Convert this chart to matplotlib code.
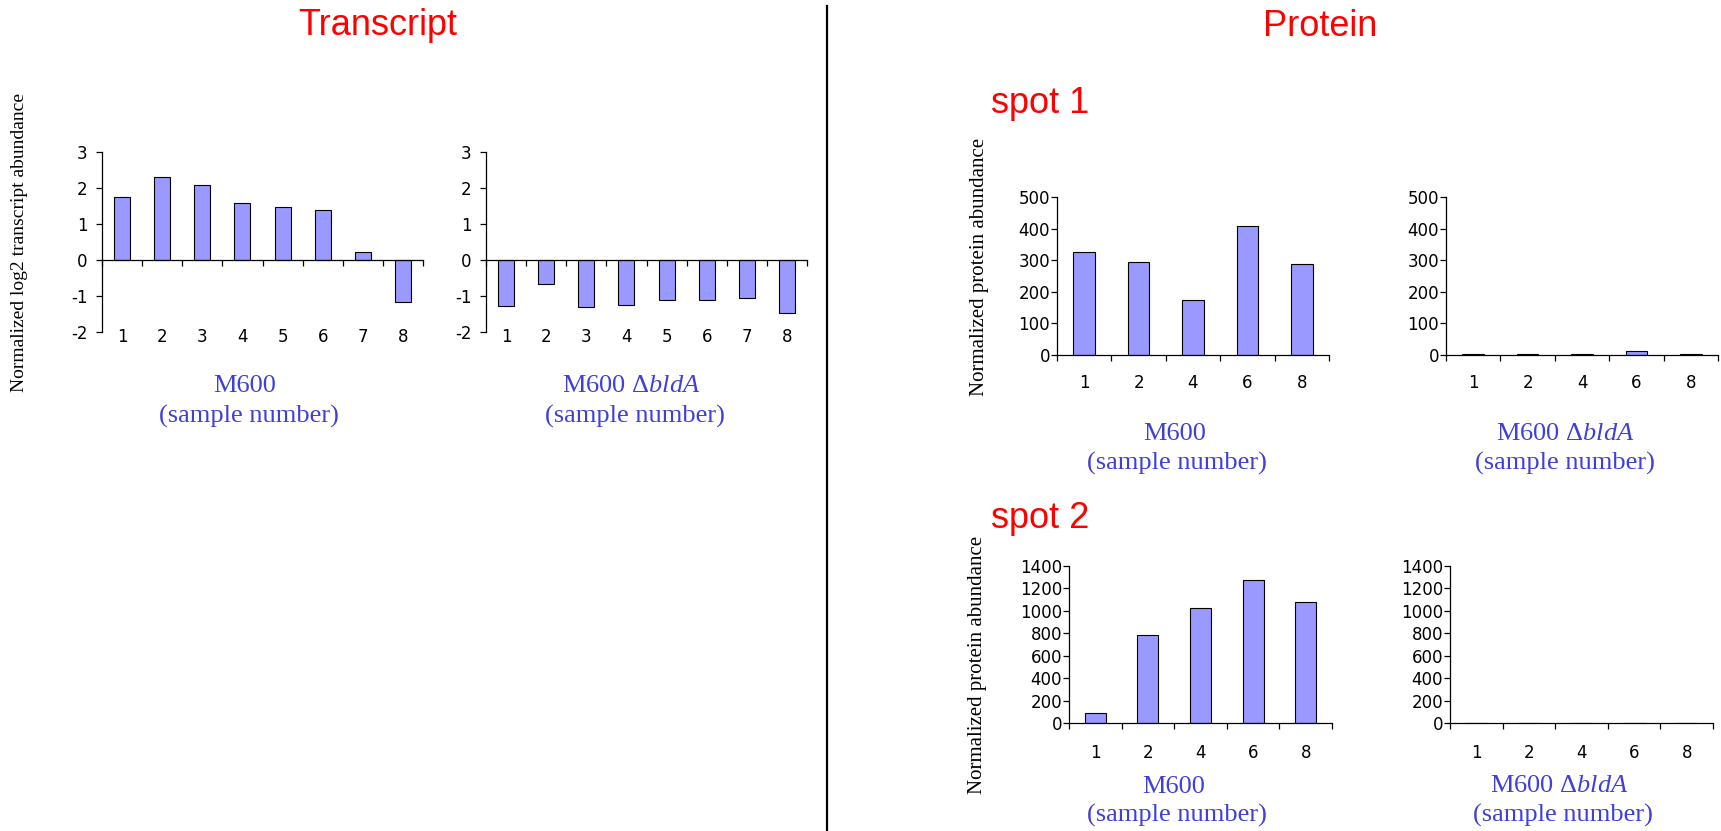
import numpy as np
import matplotlib
matplotlib.use("Agg")
import matplotlib.pyplot as plt
from matplotlib.lines import Line2D

# data
transcript_samples = ['1', '2', '3', '4', '5', '6', '7', '8']
transcript_m600 = [1.76, 2.30, 2.08, 1.57, 1.46, 1.38, 0.22, -1.16]
transcript_bldA = [-1.28, -0.68, -1.31, -1.26, -1.11, -1.10, -1.06, -1.46]

protein_samples = ['1', '2', '4', '6', '8']
spot1_m600 = [326, 294, 175, 409, 288]
spot1_bldA = [2, 2, 2, 14, 2]
spot2_m600 = [92, 783, 1024, 1273, 1077]
spot2_bldA = [0, 0, 0, 0, 0]

W, H = 1721, 831
BAR_COLOR = '#9999ff'
LABEL_BLUE = '#4040d6'

plt.rcParams['mathtext.fontset'] = 'custom'
plt.rcParams['mathtext.rm'] = 'Liberation Serif'
plt.rcParams['mathtext.it'] = 'Liberation Serif:italic'
plt.rcParams['axes.unicode_minus'] = False

fig = plt.figure(figsize=(W / 100, H / 100), dpi=100)


def px_axes(x0, y0, x1, y1):
    # pixel box (top-left origin) -> figure axes
    return fig.add_axes([x0 / W, 1 - y1 / H, (x1 - x0) / W, (y1 - y0) / H])


def ftext(x, y, s, **kw):
    fig.text(x / W, 1 - y / H, s, **kw)


def style_axes(ax, n, ytick_pad):
    ax.spines['top'].set_visible(False)
    ax.spines['right'].set_visible(False)
    for sp in ('left', 'bottom'):
        ax.spines[sp].set_linewidth(0.9)
    ax.set_xlim(-0.5, n - 0.5)
    # category boundary ticks on x
    ax.set_xticks(np.arange(n + 1) - 0.5)
    ax.set_xticklabels([])
    ax.tick_params(axis='x', direction='out', length=4.5, width=0.9)
    ax.tick_params(axis='y', direction='out', length=4.5, width=0.9,
                   pad=ytick_pad, labelsize=12)
    for lab in ax.get_yticklabels():
        lab.set_fontfamily('DejaVu Sans')


def transcript_panel(ax, values):
    n = len(transcript_samples)
    x = np.arange(n)
    ax.bar(x, values, width=0.4, color=BAR_COLOR, edgecolor='black', linewidth=0.8, zorder=2)
    ax.set_ylim(-2, 3)
    ax.set_yticks(np.arange(-2, 4, 1))
    ax.spines['bottom'].set_position(('data', 0))
    style_axes(ax, n, 6)
    for i, s in enumerate(transcript_samples):
        ax.text(i, -0.03, s, transform=ax.get_xaxis_transform(), ha='center', va='center',
                fontsize=12, family='DejaVu Sans', clip_on=False)


def protein_panel(ax, values, ymax, ystep, label_pad):
    n = len(protein_samples)
    x = np.arange(n)
    ax.bar(x, values, width=0.4, color=BAR_COLOR, edgecolor='black', linewidth=0.8, zorder=2)
    ax.set_ylim(0, ymax)
    ax.set_yticks(np.arange(0, ymax + 1, ystep))
    style_axes(ax, n, 0.5)
    ax.set_xticks(x, minor=True)
    ax.set_xticklabels(protein_samples, minor=True)
    ax.tick_params(axis='x', which='minor', length=0, pad=label_pad, labelsize=12)


# Transcript
ax = px_axes(102, 152, 423, 332)
transcript_panel(ax, transcript_m600)
ax = px_axes(486, 152, 807, 332)
transcript_panel(ax, transcript_bldA)

# Protein spot 1
ax = px_axes(1057, 197, 1329, 355)
protein_panel(ax, spot1_m600, 500, 100, 14)
ax = px_axes(1446, 197, 1718, 355)
protein_panel(ax, spot1_bldA, 500, 100, 14)

# Protein spot 2
ax = px_axes(1069, 566, 1332, 723)
protein_panel(ax, spot2_m600, 1400, 200, 15)
ax = px_axes(1450, 566, 1713, 723)
protein_panel(ax, spot2_bldA, 1400, 200, 15)

# titles
title_kw = dict(color='red', fontsize=26, family='Liberation Sans', ha='center', va='baseline')
ftext(378, 35, 'Transcript', **title_kw)
ftext(1320, 36, 'Protein', **title_kw)
ftext(1040, 113, 'spot 1', **title_kw)
ftext(1040, 528, 'spot 2', **title_kw)

# y labels
ylab_kw = dict(rotation=90, ha='center', va='center', family='Liberation Serif')
ftext(20, 242, 'Normalized log2 transcript abundance', fontsize=14, **ylab_kw)
ftext(980, 267, 'Normalized protein abundance', fontsize=15, **ylab_kw)
ftext(978, 665, 'Normalized protein abundance', fontsize=15, **ylab_kw)

# sample labels under each panel
lab_kw = dict(color=LABEL_BLUE, family='Liberation Serif', fontsize=19, ha='center', va='baseline')
wt = 'M600'
mut = 'M600 Δ$\\mathit{bldA}$'
sub = '(sample number)'
ftext(245, 392, wt, **lab_kw)
ftext(249, 423, sub, **lab_kw)
ftext(631, 392, mut, **lab_kw)
ftext(635, 423, sub, **lab_kw)
ftext(1175, 440, wt, **lab_kw)
ftext(1177, 470, sub, **lab_kw)
ftext(1565, 440, mut, **lab_kw)
ftext(1565, 470, sub, **lab_kw)
ftext(1174, 793, wt, **lab_kw)
ftext(1177, 822, sub, **lab_kw)
ftext(1559, 792, mut, **lab_kw)
ftext(1563, 822, sub, **lab_kw)

# divider between the two halves
fig.add_artist(Line2D([826.5 / W, 826.5 / W], [1 - 6 / H, 0], color='black', linewidth=1.6))

fig.savefig('out.png', dpi=100)
